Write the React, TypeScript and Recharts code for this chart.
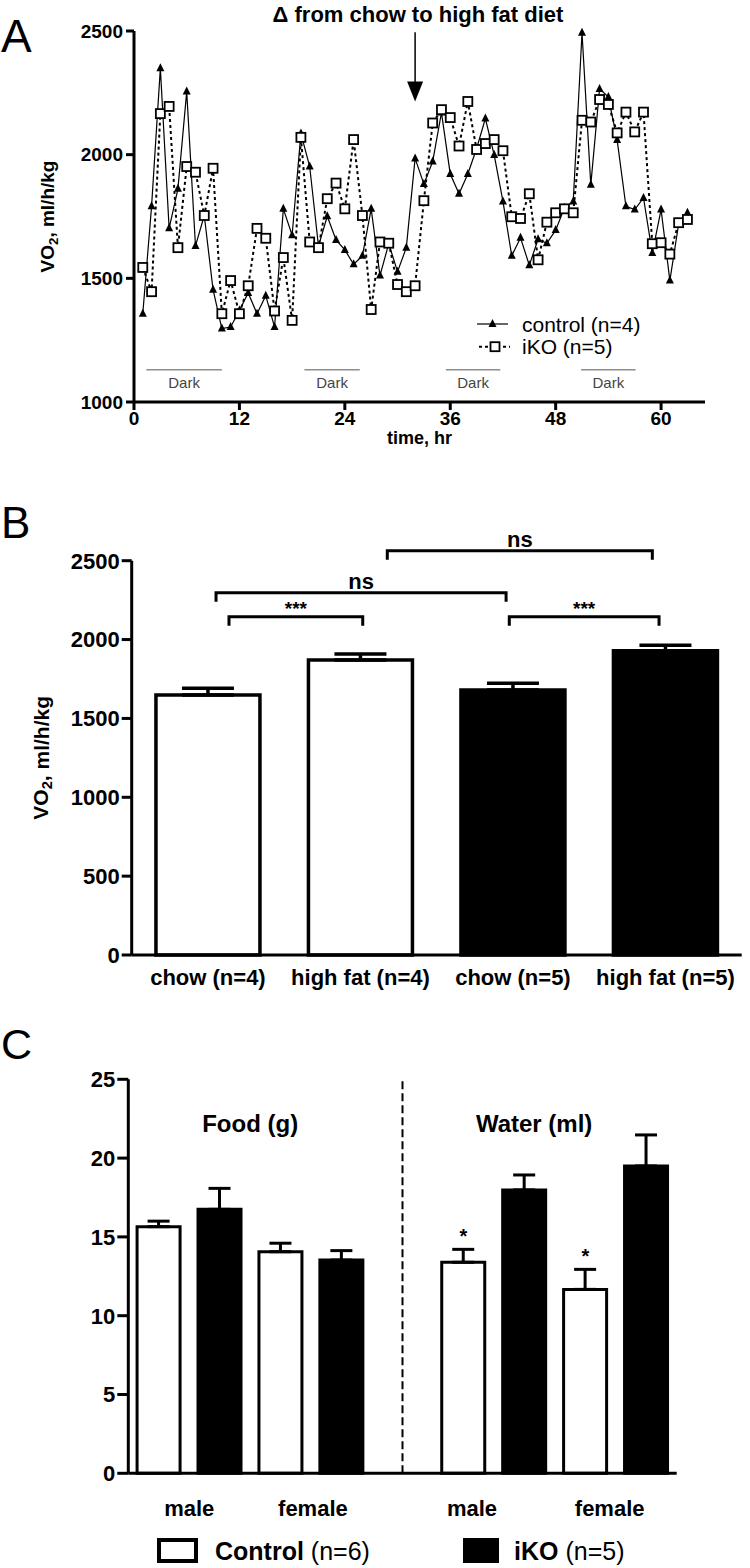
import React from 'react';
import {
  LineChart, Line, BarChart, Bar, Cell, ErrorBar, XAxis, YAxis,
  ReferenceLine, ReferenceDot, Legend,
} from 'recharts';

const FONT = '"Liberation Sans", Arial, Helvetica, sans-serif';

// ---------- Panel A: VO2 over time ----------
const hours = [
  1, 2, 3, 4, 5, 6, 7, 8, 9, 10, 11, 12, 13, 14, 15, 16, 17, 18, 19, 20, 21,
  22, 23, 24, 25, 26, 27, 28, 29, 30, 31, 32, 33, 34, 35, 36, 37, 38, 39, 40, 41, 42,
  43, 44, 45, 46, 47, 48, 49, 50, 51, 52, 53, 54, 55, 56, 57, 58, 59, 60, 61, 62, 63,
];
const controlVO2 = [
  1357, 1791, 2349, 1702, 1862, 2255, 1631, 1754, 1454, 1297, 1303, 1370, 1441, 1357, 1430, 1303, 1781, 1674, 2086, 1952, 1630,
  1751, 1655, 1615, 1557, 1591, 1781, 1511, 1640, 1527, 1624, 1985, 1881, 1972, 2170, 1922, 1842, 1922, 2025, 2146, 1999, 1811,
  1591, 1664, 1553, 1658, 1642, 1695, 1785, 1811, 2493, 1878, 2266, 2233, 2059, 1791, 1778, 1825, 1602, 1778, 1491, 1720, 1765,
];
const ikoVO2 = [
  1544, 1446, 2166, 2195, 1624, 1952, 1929, 1754, 1945, 1357, 1491, 1357, 1470, 1702, 1662, 1368, 1584, 1330, 2070, 1647, 1624,
  1822, 1885, 1781, 2061, 1754, 1374, 1647, 1642, 1475, 1446, 1470, 1814, 2128, 2182, 2150, 2035, 2215, 2021, 2045, 2061, 2016,
  1749, 1742, 1842, 1575, 1727, 1765, 1781, 1765, 2139, 2132, 2223, 2203, 2088, 2172, 2092, 2172, 1640, 1644, 1598, 1725, 1738,
];
const xTicksA = [0, 12, 24, 36, 48, 60];
const yTicksA = [1000, 1500, 2000, 2500];
const darkStart = [1.4, 19.4, 35.5, 50.9];
const darkEnd = [10, 25.7, 41.7, 57.1];
const dietSwitchHour = 32;

// ---------- Panel B: mean VO2 by diet ----------
const dietLabels = ['chow (n=4)', 'high fat (n=4)', 'chow (n=5)', 'high fat (n=5)'];
const dietGroup = ['control', 'control', 'iKO', 'iKO'];
const dietVO2 = [1648, 1870, 1680, 1929];
const dietSEM = [43, 38, 43, 35];
const yTicksB = [0, 500, 1000, 1500, 2000, 2500];
const bracketFrom = [0.638, 0.553, 1.676, 2.476];
const bracketTo = [1.515, 2.455, 3.414, 3.458];
const bracketY = [2145, 2297, 2563, 2145];
const bracketText = ['***', 'ns', 'ns', '***'];

// ---------- Panel C: food and water intake ----------
const sexes = ['male', 'female'];
const foodControl = [15.65, 14.06];
const foodControlSEM = [0.35, 0.54];
const foodIKO = [16.75, 13.53];
const foodIKOSEM = [1.33, 0.6];
const waterControl = [13.39, 11.67];
const waterControlSEM = [0.82, 1.27];
const waterIKO = [17.98, 19.5];
const waterIKOSEM = [0.95, 1.97];
const waterControlSig = ['*', '*'];
const yTicksC = [0, 5, 10, 15, 20, 25];
const cTickPos = [1.0, 3.03, 5.64, 7.9];
const cTickLabels = ['male', 'female', 'male', 'female'];
const cGroupTitles = ['Food (g)', 'Water (ml)'];
const cGroupX = [2.0, 6.66];
const cGroupY = 22.2;

const timeRows = hours.map((h, i) => ({ h, control: controlVO2[i], iko: ikoVO2[i] }));
const dietRows = dietLabels.map((name, i) => ({ name, group: dietGroup[i], v: dietVO2[i], e: [0, dietSEM[i]] }));
const intakeRows = [
  ...sexes.flatMap((s, i) => [
    { slot: `food-${s}-control`, group: 'control', v: foodControl[i], e: [0, foodControlSEM[i]] },
    { slot: `food-${s}-iKO`, group: 'iKO', v: foodIKO[i], e: [0, foodIKOSEM[i]] },
  ]),
  { slot: 'divider', group: 'none', v: null, e: undefined },
  ...sexes.flatMap((s, i) => [
    { slot: `water-${s}-control`, group: 'control', v: waterControl[i], e: [0, waterControlSEM[i]] },
    { slot: `water-${s}-iKO`, group: 'iKO', v: waterIKO[i], e: [0, waterIKOSEM[i]] },
  ]),
];

const axisLine = { stroke: '#000', strokeWidth: 3 };
const tickFont = (size: number) => ({ fill: '#000', fontSize: size, fontWeight: 700, fontFamily: FONT });

const VoLabel = (props: any) => {
  const { viewBox, px, fs } = props;
  const cy = viewBox.y + viewBox.height / 2;
  return (
    <text x={px} y={cy} transform={`rotate(-90, ${px}, ${cy})`} textAnchor="middle" dominantBaseline="central"
      fontWeight={700} fontSize={fs} fontFamily={FONT} fill="#000">
      VO<tspan dy={fs * 0.3} fontSize={fs * 0.7}>2</tspan><tspan dy={-fs * 0.3}>, ml/h/kg</tspan>
    </text>
  );
};

const TriDot = (p: any) => {
  const { cx, cy, index } = p;
  if (cx == null || cy == null) return <g key={`t${index}`} />;
  return <polygon key={`t${index}`} points={`${cx},${cy - 5} ${cx - 4},${cy + 3} ${cx + 4},${cy + 3}`} fill="#000" />;
};

const SquareDot = (p: any) => {
  const { cx, cy, index } = p;
  if (cx == null || cy == null) return <g key={`s${index}`} />;
  return <rect key={`s${index}`} x={cx - 4.5} y={cy - 4.5} width={9} height={9} fill="#fff" stroke="#000" strokeWidth={1.8} />;
};

const ArrowShape = (p: any) => {
  const { x1, y1, x2, y2 } = p;
  return (
    <g>
      <line x1={x1} y1={y1} x2={x2} y2={y2 - 19} stroke="#000" strokeWidth={1.5} />
      <polygon points={`${x2 - 8},${y2 - 20} ${x2 + 8},${y2 - 20} ${x2},${y2}`} fill="#000" />
    </g>
  );
};

const BracketShape = (p: any) => {
  const { x1, y1, x2 } = p;
  return <path d={`M${x1},${y1 + 9} V${y1} H${x2} V${y1 + 9}`} fill="none" stroke="#000" strokeWidth={3} />;
};

const LegendA = () => (
  <svg width={240} height={54} style={{ display: 'block' }}>
    <line x1={7} y1={16} x2={38} y2={16} stroke="#000" strokeWidth={1.2} />
    <polygon points="22.5,11 18.5,19 26.5,19" fill="#000" />
    <text x={52} y={16} dominantBaseline="central" fontSize={21} fontFamily={FONT} fill="#000">control (n=4)</text>
    <line x1={9} y1={38.7} x2={40} y2={38.7} stroke="#000" strokeWidth={2} strokeDasharray="3 3" />
    <rect x={20.5} y={34.2} width={9} height={9} fill="#fff" stroke="#000" strokeWidth={1.8} />
    <text x={52} y={38.7} dominantBaseline="central" fontSize={21} fontFamily={FONT} fill="#000">iKO (n=5)</text>
  </svg>
);

const LegendC = () => (
  <svg width={750} height={34} style={{ display: 'block' }}>
    <rect x={159} y={4} width={37} height={21} fill="#fff" stroke="#000" strokeWidth={4} />
    <text x={215} y={24} fontSize={25} fontFamily={FONT} fill="#000">
      <tspan fontWeight={700}>Control</tspan><tspan> (n=6)</tspan>
    </text>
    <rect x={463} y={2} width={36} height={25} fill="#000" />
    <text x={514} y={24} fontSize={25} fontFamily={FONT} fill="#000">
      <tspan fontWeight={700}>iKO</tspan><tspan>  (n=5)</tspan>
    </text>
  </svg>
);

export default function App() {
  return (
    <div style={{ position: 'absolute', left: 0, top: 0, width: 750, height: 1568, background: '#fff', fontFamily: FONT }}>
      {/* Panel A */}
      <div style={{ position: 'absolute', left: 0, top: 0 }}>
        <LineChart width={750} height={460} data={timeRows} margin={{ top: 31, right: 45, left: 0, bottom: 0 }}>
          <XAxis dataKey="h" type="number" domain={[0, 65]} allowDataOverflow ticks={xTicksA} interval={0} height={58}
            axisLine={axisLine} tickLine={axisLine} tickSize={8} tickMargin={2} tick={tickFont(19)}
            label={{ value: 'time, hr', position: 'insideBottom', offset: 16, fill: '#000', fontSize: 18, fontWeight: 700, fontFamily: FONT }} />
          <YAxis type="number" domain={[1000, 2500]} ticks={yTicksA} interval={0} width={134}
            axisLine={axisLine} tickLine={axisLine} tickSize={8} tickMargin={3} tick={tickFont(19)}
            label={<VoLabel px={47} fs={19} />} />
          {darkStart.map((s, i) => (
            <ReferenceLine key={`dark${i}`} segment={[{ x: s, y: 1130 }, { x: darkEnd[i], y: 1130 }]}
              stroke="#555" strokeWidth={1} ifOverflow="visible"
              label={{ value: 'Dark', position: 'bottom', offset: 8, fill: '#444', fontSize: 15, fontFamily: FONT }} />
          ))}
          <ReferenceLine segment={[{ x: dietSwitchHour, y: 2495 }, { x: dietSwitchHour, y: 2215 }]}
            ifOverflow="visible" shape={ArrowShape} />
          <Line dataKey="control" stroke="#000" strokeWidth={1.2} dot={TriDot} activeDot={false} isAnimationActive={false} />
          <Line dataKey="iko" stroke="#000" strokeWidth={2} strokeDasharray="3 3" dot={SquareDot} activeDot={false} isAnimationActive={false} />
          <Legend layout="horizontal" verticalAlign="middle" align="center" content={LegendA}
            wrapperStyle={{ left: 470, top: 308, width: 240 }} />
        </LineChart>
      </div>

      {/* Panel B */}
      <div style={{ position: 'absolute', left: 0, top: 480 }}>
        <BarChart width={750} height={530} data={dietRows} margin={{ top: 80.7, right: 8.3, left: 0, bottom: 0 }} barCategoryGap="15.9%">
          <XAxis dataKey="name" height={55} interval={0} axisLine={axisLine} tickLine={false} tickSize={6} tickMargin={8} tick={tickFont(22)} />
          <XAxis xAxisId="br" dataKey="pos" type="number" domain={[0, 4]} allowDataOverflow hide height={0} />
          <YAxis type="number" domain={[0, 2500]} ticks={yTicksB} interval={0} width={131.7}
            axisLine={axisLine} tickLine={axisLine} tickSize={10} tickMargin={2} tick={tickFont(22)}
            label={<VoLabel px={41} fs={21} />} />
          <Bar dataKey="v" stroke="#000" strokeWidth={3.5} isAnimationActive={false}>
            {dietRows.map((r, i) => <Cell key={i} fill={r.group === 'control' ? '#fff' : '#000'} />)}
            <ErrorBar dataKey="e" width={26} stroke="#000" strokeWidth={3.5} direction="y" isAnimationActive={false} />
          </Bar>
          {bracketFrom.map((f, i) => (
            <ReferenceLine key={`br${i}`} xAxisId="br" segment={[{ x: f, y: bracketY[i] }, { x: bracketTo[i], y: bracketY[i] }]}
              ifOverflow="visible" shape={BracketShape}
              label={{ value: bracketText[i], position: 'top', offset: bracketText[i] === 'ns' ? 4 : 2, fill: '#000',
                fontSize: bracketText[i] === 'ns' ? 22 : 19, fontWeight: 700, fontFamily: FONT }} />
          ))}
        </BarChart>
      </div>

      {/* Panel C */}
      <div style={{ position: 'absolute', left: 0, top: 1040 }}>
        <BarChart width={750} height={528} data={intakeRows} margin={{ top: 39.3, right: 73.3, left: 0, bottom: 0 }} barCategoryGap="14.4%">
          <XAxis dataKey="slot" hide height={0} />
          <XAxis xAxisId="num" dataKey="pos" type="number" domain={[0, 9]} allowDataOverflow ticks={cTickPos} interval={0} height={94.7}
            tickFormatter={(v: number) => cTickLabels[cTickPos.indexOf(v)]}
            axisLine={axisLine} tickLine={false} tickSize={6} tickMargin={21} tick={tickFont(22)} />
          <YAxis type="number" domain={[0, 25]} ticks={yTicksC} interval={0} width={128.3}
            axisLine={axisLine} tickLine={axisLine} tickSize={11} tickMargin={2} tick={tickFont(22)} />
          <ReferenceLine xAxisId="num" x={4.5} stroke="#000" strokeWidth={2} strokeDasharray="8 4" />
          <Bar dataKey="v" stroke="#000" strokeWidth={3} isAnimationActive={false}>
            {intakeRows.map((r, i) => <Cell key={i} fill={r.group === 'control' ? '#fff' : '#000'} />)}
            <ErrorBar dataKey="e" width={11} stroke="#000" strokeWidth={3} direction="y" isAnimationActive={false} />
          </Bar>
          {cGroupTitles.map((t, i) => (
            <ReferenceDot key={`g${i}`} xAxisId="num" x={cGroupX[i]} y={cGroupY} r={0} fill="none" stroke="none"
              label={{ value: t, position: 'center', fill: '#000', fontSize: 24, fontWeight: 700, fontFamily: FONT }} />
          ))}
          {sexes.map((s, i) => (
            <ReferenceDot key={`sig${i}`} x={`water-${s}-control`} y={waterControl[i] + waterControlSEM[i]} r={0}
              fill="none" stroke="none" ifOverflow="visible"
              label={{ value: waterControlSig[i], position: 'top', offset: 6, fill: '#000', fontSize: 20, fontWeight: 700, fontFamily: FONT }} />
          ))}
          <Legend layout="horizontal" verticalAlign="middle" align="center" content={LegendC}
            wrapperStyle={{ left: 0, top: 496, width: 750 }} />
        </BarChart>
      </div>

      {/* panel letters and title */}
      <svg width={750} height={1568} style={{ position: 'absolute', left: 0, top: 0, pointerEvents: 'none' }}>
        <text x={1} y={52} fontSize={46} fontFamily={FONT} fill="#000">A</text>
        <text x={1} y={538} fontSize={44} fontFamily={FONT} fill="#000">B</text>
        <text x={1} y={1059} fontSize={43} fontFamily={FONT} fill="#000">C</text>
        <text x={418} y={22} textAnchor="middle" fontSize={22} fontWeight={700} fontFamily={FONT} fill="#000">Δ from chow to high fat diet</text>
      </svg>
    </div>
  );
}
